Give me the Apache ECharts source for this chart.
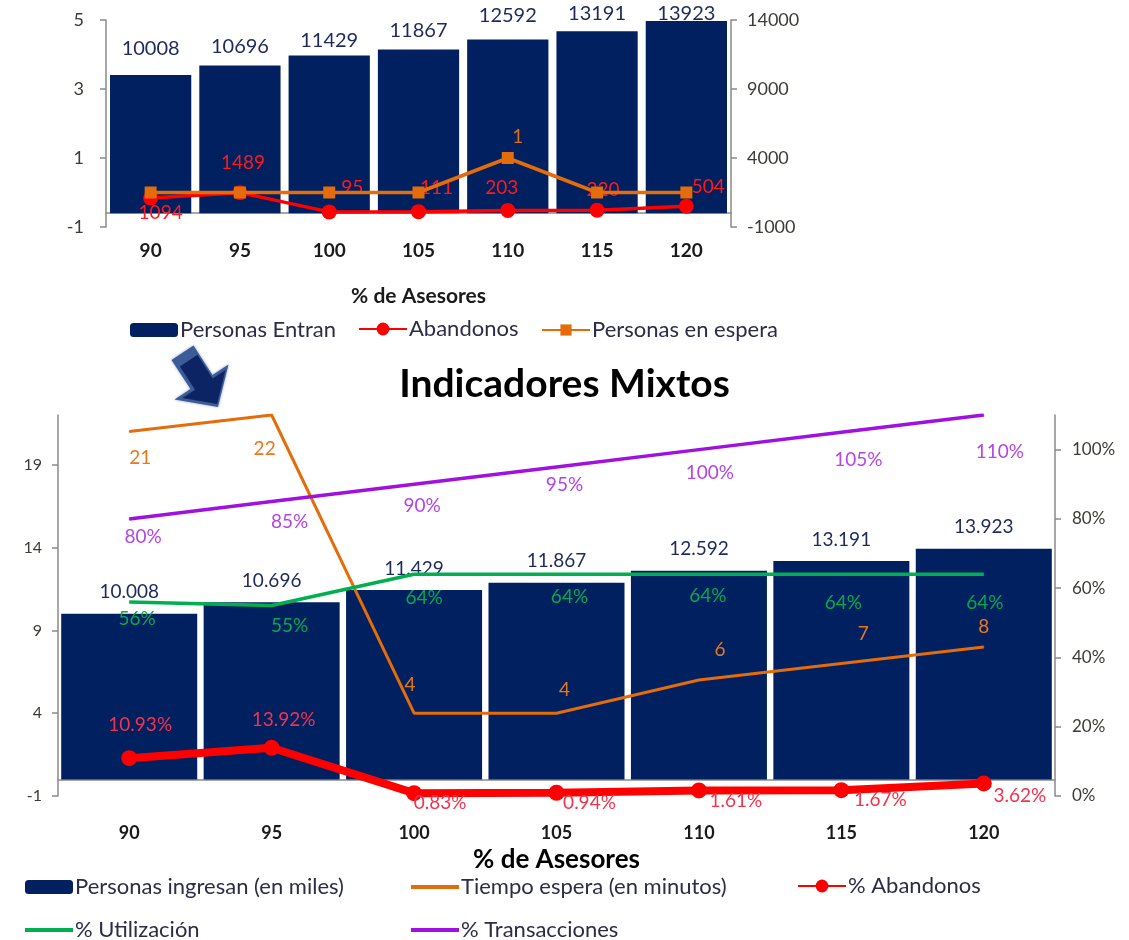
<!DOCTYPE html>
<html>
<head>
<meta charset="utf-8">
<script src="https://cdn.jsdelivr.net/npm/echarts@6/dist/echarts.min.js"></script>
<style>
  html, body { margin: 0; padding: 0; background: #ffffff; }
  #chart { width: 1129px; height: 940px; }
</style>
</head>
<body>
<div id="chart"></div>
<script>
// ---- data -------------------------------------------------------------
const categories = ['90', '95', '100', '105', '110', '115', '120'];

// upper panel
const personasEntran   = [10008, 10696, 11429, 11867, 12592, 13191, 13923];
const abandonos        = [1094, 1489, 95, 111, 203, 220, 504];
const personasEnEspera = [0, 0, 0, 0, 1, 0, 0];
const upperLeftTicks   = [-1, 1, 3, 5];
const upperRightTicks  = [-1000, 4000, 9000, 14000];

// lower panel: "Indicadores Mixtos"
const personasIngresan = [10.008, 10.696, 11.429, 11.867, 12.592, 13.191, 13.923];
const tiempoEspera     = [21, 22, 4, 4, 6, 7, 8];
const pctAbandonos     = [10.93, 13.92, 0.83, 0.94, 1.61, 1.67, 3.62];
const pctUtilizacion   = [56, 55, 64, 64, 64, 64, 64];
const pctTransacciones = [80, 85, 90, 95, 100, 105, 110];
const lowerLeftTicks   = [-1, 4, 9, 14, 19];
const lowerRightTicks  = [0, 20, 40, 60, 80, 100];
const lowerLeftMax  = 22;
const lowerRightMax = 110;

// ---- styling ----------------------------------------------------------
const FONT = 'Lato, "Liberation Sans", sans-serif';
const AXIS_GREY = '#8a8a8a';
const NAVY = '#002060';
const ORANGE = '#e46c0a';
const RED = '#ff0000';
const GREEN = '#00b050';
const PURPLE = '#a010e0';
const TICK_TEXT = '#3c3c34';
const LEGEND_TEXT = '#2c2c48';

// label nudges (label centre relative to the point, in px)
const nudge = {
  upperBars:  [-12, -4, 0, -4, -9, -3, 7],
  abandonos:  [[10, 15], [3, -30], [23, -24], [18, -24], [-6, -23], [6, -20], [22, -19]],
  espera:     [[10, -21], [10, -21], [10, -21], [10, -21], [10, -21], [10, -21], [10, -21]],
  tiempo:     [[11, 26], [-7, 34], [-4, -28], [8, -23], [21, -30], [22, -30], [0, -20]],
  pctAband:   [[11, -33], [12, -28], [26, 10], [33, 10], [37, 10], [39, 10], [36, 12]],
  utiliz:     [[8, 17], [18, 20], [10, 24], [13, 23], [9, 22], [2, 29], [1, 29]],
  transacc:   [[14, 18], [18, 20], [8, 22], [8, 18], [11, 23], [17, 28], [16, 37]]
};

function pointLabels(values, offs, symbolSize) {
  return values.map((v, i) => ({
    value: v,
    label: { position: [offs[i][0] + symbolSize / 2, offs[i][1] + symbolSize / 2] }
  }));
}

function valueAxis(gridIndex, position, min, max, ticks, labelSize, margin, fmt) {
  return {
    type: 'value', gridIndex, position, min, max,
    splitLine: { show: false },
    axisLine: { show: true, lineStyle: { color: AXIS_GREY, width: 1.5 } },
    axisTick: { show: true, inside: false, length: 6, customValues: ticks, lineStyle: { color: AXIS_GREY, width: 1.5 } },
    axisLabel: {
      customValues: ticks, margin, fontSize: labelSize, color: TICK_TEXT, fontFamily: FONT,
      formatter: fmt || (v => String(v))
    }
  };
}

function singleLegend(name, left, top, extra) {
  return Object.assign({
    data: [name], left, top, orient: 'horizontal', selectedMode: false,
    padding: 0, itemWidth: 48, itemHeight: 14, itemGap: 0,
    textStyle: { fontSize: 22, color: LEGEND_TEXT, fontFamily: FONT, padding: [0, 0, 0, -3] }
  }, extra || {});
}

// decorative block arrow between the two panels
const arrowOutline = [
  [218, 407], [228.5, 364.5], [212.5, 375], [193.5, 345.5],
  [171.5, 360], [190.5, 389], [174.5, 399.5]
];
const arrowCx = arrowOutline.reduce((s, p) => s + p[0], 0) / arrowOutline.length;
const arrowCy = arrowOutline.reduce((s, p) => s + p[1], 0) / arrowOutline.length;
const arrowFace = arrowOutline.map(p => [
  arrowCx + (p[0] - arrowCx) * 0.8 + 3,
  arrowCy + (p[1] - arrowCy) * 0.8 + 3
]);

const chart = echarts.init(document.getElementById('chart'), null, { renderer: 'canvas' });

const option = {
  animation: false,
  backgroundColor: '#ffffff',
  textStyle: { fontFamily: FONT },
  title: {
    text: 'Indicadores Mixtos',
    left: 'center', top: 360,
    textStyle: { fontSize: 39, fontWeight: 'bold', color: '#000000', fontFamily: FONT }
  },
  grid: [
    { left: 106, top: 20, width: 625, height: 207 },
    { left: 58, top: 415, width: 997, height: 381 }
  ],
  xAxis: [
    {
      type: 'category', gridIndex: 0, data: categories,
      axisLine: { onZero: true, onZeroAxisIndex: 1, lineStyle: { color: AXIS_GREY, width: 1.5 } },
      axisTick: { show: false },
      axisLabel: { margin: 14, fontSize: 19, fontWeight: 'bold', color: '#1a1a1a', fontFamily: FONT },
      name: '% de Asesores', nameLocation: 'middle', nameGap: 59,
      nameTextStyle: { fontSize: 21, fontWeight: 'bold', color: '#1a1a1a', fontFamily: FONT }
    },
    {
      type: 'category', gridIndex: 1, data: categories,
      axisLine: { onZero: true, onZeroAxisIndex: 2, lineStyle: { color: AXIS_GREY, width: 1.5 } },
      axisTick: { show: false },
      axisLabel: { margin: 28, fontSize: 18, fontWeight: 'bold', color: '#1a1a1a', fontFamily: FONT },
      name: '% de Asesores', nameLocation: 'middle', nameGap: 51,
      nameTextStyle: { fontSize: 26, fontWeight: 'bold', color: '#000000', fontFamily: FONT }
    }
  ],
  yAxis: [
    valueAxis(0, 'left', -1, 5, upperLeftTicks, 18, 22),
    valueAxis(0, 'right', -1000, 14000, upperRightTicks, 18, 16),
    valueAxis(1, 'left', -1, lowerLeftMax, lowerLeftTicks, 16, 16),
    valueAxis(1, 'right', 0, lowerRightMax, lowerRightTicks, 17, 17, v => v + '%')
  ],
  legend: [
    singleLegend('Personas Entran', 130, 319),
    singleLegend('Abandonos', 358, 318, { itemHeight: 16 }),
    singleLegend('Personas en espera', 541, 319),
    singleLegend('Personas ingresan (en miles)', 25, 876),
    singleLegend('Tiempo espera (en minutos)', 411, 876, { itemHeight: 4, icon: 'rect' }),
    singleLegend('% Abandonos', 797, 875, { itemHeight: 16 }),
    singleLegend('% Utilización', 25, 919, { itemHeight: 4, icon: 'rect' }),
    singleLegend('% Transacciones', 411, 919, { itemHeight: 4, icon: 'rect' })
  ],
  series: [
    // ---- upper panel ----
    {
      name: 'Personas Entran', type: 'bar', xAxisIndex: 0, yAxisIndex: 1,
      data: personasEntran.map((v, i) => ({ value: v, label: { offset: [0, nudge.upperBars[i]] } })),
      barCategoryGap: '9%',
      itemStyle: { color: NAVY },
      label: { show: true, position: 'top', distance: 5, fontSize: 20, color: '#1f2a5c', fontFamily: FONT },
      z: 2
    },
    {
      name: 'Abandonos', type: 'line', xAxisIndex: 0, yAxisIndex: 1,
      data: pointLabels(abandonos, nudge.abandonos, 15),
      symbol: 'circle', symbolSize: 15,
      lineStyle: { color: RED, width: 3.5 },
      itemStyle: { color: RED },
      label: { show: true, align: 'center', verticalAlign: 'middle', fontSize: 19, color: '#ff1a1a', fontFamily: FONT },
      z: 3
    },
    {
      name: 'Personas en espera', type: 'line', xAxisIndex: 0, yAxisIndex: 0,
      data: pointLabels(personasEnEspera, nudge.espera, 12),
      symbol: 'rect', symbolSize: 12,
      lineStyle: { color: ORANGE, width: 3.5 },
      itemStyle: { color: ORANGE },
      label: {
        show: true, align: 'center', verticalAlign: 'middle', fontSize: 19, color: ORANGE, fontFamily: FONT,
        formatter: p => (p.value ? String(p.value) : '')
      },
      z: 4
    },
    // ---- lower panel ----
    {
      name: 'Personas ingresan (en miles)', type: 'bar', xAxisIndex: 1, yAxisIndex: 2,
      data: personasIngresan,
      barCategoryGap: '4.5%',
      itemStyle: { color: NAVY },
      label: {
        show: true, position: 'top', distance: 12, fontSize: 19, color: '#1f2a5c', fontFamily: FONT,
        formatter: p => p.value.toFixed(3)
      },
      z: 2
    },
    {
      name: 'Tiempo espera (en minutos)', type: 'line', xAxisIndex: 1, yAxisIndex: 2,
      data: pointLabels(tiempoEspera, nudge.tiempo, 1),
      symbol: 'circle', symbolSize: 1,
      lineStyle: { color: ORANGE, width: 3 },
      itemStyle: { color: ORANGE },
      label: { show: true, align: 'center', verticalAlign: 'middle', fontSize: 19, color: '#e8781e', fontFamily: FONT },
      z: 3
    },
    {
      name: '% Abandonos', type: 'line', xAxisIndex: 1, yAxisIndex: 3,
      data: pointLabels(pctAbandonos, nudge.pctAband, 16),
      symbol: 'circle', symbolSize: 16,
      lineStyle: { color: RED, width: 8 },
      itemStyle: { color: RED },
      label: {
        show: true, align: 'center', verticalAlign: 'middle', fontSize: 19, color: '#f2334e', fontFamily: FONT,
        formatter: p => p.value.toFixed(2) + '%'
      },
      z: 4
    },
    {
      name: '% Utilización', type: 'line', xAxisIndex: 1, yAxisIndex: 3,
      data: pointLabels(pctUtilizacion, nudge.utiliz, 1),
      symbol: 'circle', symbolSize: 1,
      lineStyle: { color: GREEN, width: 3.5 },
      itemStyle: { color: GREEN },
      label: {
        show: true, align: 'center', verticalAlign: 'middle', fontSize: 19, color: '#05a84e', fontFamily: FONT,
        formatter: p => p.value + '%'
      },
      z: 4
    },
    {
      name: '% Transacciones', type: 'line', xAxisIndex: 1, yAxisIndex: 3,
      data: pointLabels(pctTransacciones, nudge.transacc, 1),
      symbol: 'circle', symbolSize: 1,
      lineStyle: { color: PURPLE, width: 3.5 },
      itemStyle: { color: PURPLE },
      label: {
        show: true, align: 'center', verticalAlign: 'middle', fontSize: 19, color: '#b445e6', fontFamily: FONT,
        formatter: p => p.value + '%'
      },
      z: 4
    }
  ],
  graphic: [
    {
      type: 'polygon', z: 10,
      shape: { points: arrowOutline },
      style: { fill: '#3b5c98', shadowBlur: 3, shadowColor: 'rgba(40,70,130,0.5)' }
    },
    {
      type: 'polygon', z: 11,
      shape: { points: arrowFace },
      style: { fill: '#0c2463' }
    }
  ]
};

chart.setOption(option);
</script>
</body>
</html>
